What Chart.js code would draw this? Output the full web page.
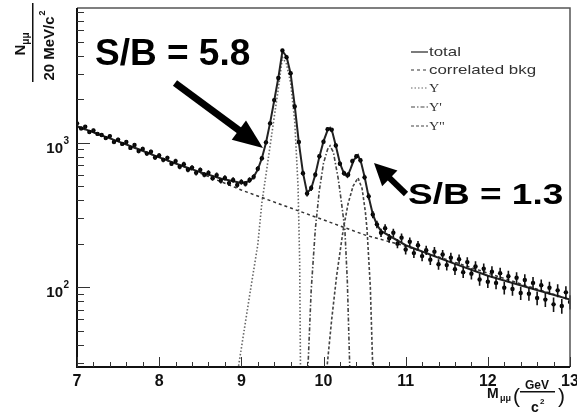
<!DOCTYPE html>
<html>
<head>
<meta charset="utf-8">
<script src="https://cdn.jsdelivr.net/npm/chart.js@4.4.0/dist/chart.umd.min.js"></script>
<style>
  html, body { margin: 0; padding: 0; background: #fff; }
  #wrap { width: 577px; height: 417px; }
</style>
</head>
<body>
<div id="wrap"><canvas id="chart" width="577" height="417"></canvas></div>
<script>
// ── data (dimuon mass spectrum, log y) ──
const dataMass = [
  7.00, 7.05, 7.10, 7.15, 7.20, 7.25, 7.30, 7.35, 7.40, 7.45, 7.50, 7.55, 7.60, 7.65, 7.70, 7.75, 7.80, 7.85, 7.90, 7.95,
  8.00, 8.05, 8.10, 8.15, 8.20, 8.25, 8.30, 8.35, 8.40, 8.45, 8.50, 8.55, 8.60, 8.65, 8.70, 8.75, 8.80, 8.85, 8.90, 8.95,
  9.00, 9.05, 9.10, 9.15, 9.20, 9.25, 9.30, 9.35, 9.40, 9.45, 9.50, 9.55, 9.60, 9.65, 9.70, 9.75, 9.80, 9.85, 9.90, 9.95,
  10.00, 10.05, 10.10, 10.15, 10.20, 10.25, 10.30, 10.35, 10.40, 10.45, 10.50, 10.55, 10.60, 10.65, 10.70, 10.75, 10.80, 10.85, 10.90, 10.95,
  11.00, 11.05, 11.10, 11.15, 11.20, 11.25, 11.30, 11.35, 11.40, 11.45, 11.50, 11.55, 11.60, 11.65, 11.70, 11.75, 11.80, 11.85, 11.90, 11.95,
  12.00, 12.05, 12.10, 12.15, 12.20, 12.25, 12.30, 12.35, 12.40, 12.45, 12.50, 12.55, 12.60, 12.65, 12.70, 12.75, 12.80, 12.85, 12.90, 12.95,
  13.00
];
const dataCounts = [
  1360, 1255, 1290, 1185, 1215, 1150, 1130, 1075, 1110, 1010, 1050, 980, 1010, 920, 965, 875, 905, 840, 865, 790,
  815, 760, 785, 715, 745, 680, 710, 650, 672, 618, 648, 600, 618, 568, 596, 545, 570, 525, 552, 510,
  535, 520, 552, 580, 660, 780, 1005, 1360, 1970, 2800, 4350, 3900, 3020, 1780, 1010, 615, 445, 485, 600, 805,
  1015, 1240, 1230, 955, 715, 615, 600, 745, 805, 755, 575, 425, 318, 272, 238, 256, 218, 238, 200, 220,
  182, 206, 172, 195, 164, 180, 155, 176, 144, 168, 142, 160, 133, 156, 127, 149, 124, 139, 113, 134,
  109, 128, 107, 125, 99, 119, 97, 116, 91, 112, 90, 107, 84, 103, 82, 99, 76, 95, 74, 92,
  79
];

// total fit
const totalMass = [7.0, 7.25, 7.5, 7.75, 8.0, 8.25, 8.5, 8.75, 9.0, 9.1, 9.15, 9.2, 9.25, 9.3, 9.35, 9.4, 9.45, 9.5,
  9.55, 9.6, 9.65, 9.7, 9.75, 9.8, 9.85, 9.9, 9.95, 10.0, 10.05, 10.08, 10.11, 10.15, 10.2, 10.25, 10.29, 10.33, 10.37, 10.42,
  10.46, 10.5, 10.55, 10.6, 10.65, 10.7, 11.0, 11.5, 12.0, 12.5, 13.0];
const totalCounts = [1300, 1150, 1020, 900, 790, 700, 625, 565, 525, 540, 580, 650, 780, 1000, 1370, 1950, 2800, 4300,
  3950, 3000, 1800, 1000, 620, 450, 480, 600, 800, 1020, 1220, 1265, 1170, 950, 720, 610, 580, 660, 760, 820,
  720, 580, 420, 320, 270, 245, 195, 152, 120, 99, 82];

// correlated background
const bkgMass   = [7.0, 7.5, 8.0, 8.5, 9.0, 9.5, 10.0, 10.5, 11.0, 11.5, 12.0, 12.5, 13.0];
const bkgCounts = [1290, 1020, 790, 615, 470, 370, 292, 230, 192, 155, 125, 101, 82];

// Upsilon states
const y1sMass   = [8.96, 9.1, 9.2, 9.25, 9.3, 9.35, 9.4, 9.45, 9.5, 9.55, 9.6, 9.65, 9.69, 9.71, 9.72];
const y1sCounts = [27, 87, 196, 383, 600, 950, 1500, 2350, 3900, 3500, 2600, 1400, 500, 150, 27];
const y2sMass   = [9.81, 9.85, 9.9, 9.95, 10.0, 10.05, 10.08, 10.12, 10.18, 10.22, 10.26, 10.29, 10.32];
const y2sCounts = [27, 95, 250, 470, 720, 900, 950, 860, 560, 380, 250, 110, 27];
const y3sMass   = [10.04, 10.1, 10.16, 10.24, 10.3, 10.36, 10.42, 10.47, 10.51, 10.53, 10.57, 10.6];
const y3sCounts = [27, 60, 120, 250, 380, 500, 570, 480, 330, 250, 100, 27];

const xTicks = [7, 8, 9, 10, 11, 12, 13];
const yDecades = [2, 3];

const zip = (xs, ys) => xs.map((x, i) => ({ x, y: ys[i] }));

const SANS = '"Liberation Sans", Arial, sans-serif';
const SERIF = '"Liberation Serif", "Times New Roman", serif';

function textAt(ctx, str, x, y, font, align, sx = 1, sy = 1) {
    ctx.save();
    ctx.translate(x, y);
    ctx.scale(sx, sy);
    ctx.font = font;
    ctx.textAlign = align;
    ctx.textBaseline = 'alphabetic';
    ctx.fillText(str, 0, 0);
    ctx.restore();
}

function arrow(ctx, x0, y0, x1, y1, shaft, headLen, headW) {
    const dx = x1 - x0, dy = y1 - y0, L = Math.hypot(dx, dy);
    const ux = dx / L, uy = dy / L;
    const bx = x1 - ux * headLen, by = y1 - uy * headLen;
    ctx.save();
    ctx.strokeStyle = '#000'; ctx.fillStyle = '#000';
    ctx.lineWidth = shaft; ctx.lineCap = 'butt';
    ctx.beginPath(); ctx.moveTo(x0, y0); ctx.lineTo(bx + ux * 2, by + uy * 2); ctx.stroke();
    ctx.beginPath();
    ctx.moveTo(x1, y1);
    ctx.lineTo(bx - uy * headW / 2, by + ux * headW / 2);
    ctx.lineTo(bx + uy * headW / 2, by - ux * headW / 2);
    ctx.closePath(); ctx.fill();
    ctx.restore();
}

/**
 * ROOT-style frame, ticks, labels, legend and annotations.
 */
const rootFrame = {
    id: 'rootFrame',
    beforeDraw(chart) {
        const ctx = chart.ctx;
        ctx.save(); ctx.fillStyle = '#fff'; ctx.fillRect(0, 0, chart.width, chart.height); ctx.restore();
    },
    afterDatasetsDraw(chart) {
        const { ctx, chartArea: a, scales: { x, y } } = chart;

        // statistical error bars on data
        ctx.save();
        ctx.strokeStyle = '#111'; ctx.lineWidth = 1.6;
        ctx.beginPath();
        dataMass.forEach((m, i) => {
            const n = dataCounts[i], e = Math.sqrt(n);
            const px = x.getPixelForValue(m);
            ctx.moveTo(px, y.getPixelForValue(n + e));
            ctx.lineTo(px, y.getPixelForValue(Math.max(n - e, 1)));
        });
        ctx.stroke();
        ctx.restore();

        // frame
        ctx.save();
        ctx.strokeStyle = '#555'; ctx.lineWidth = 1.5;
        ctx.beginPath();
        ctx.moveTo(a.left, a.top); ctx.lineTo(a.right, a.top); ctx.lineTo(a.right, a.bottom);
        ctx.stroke();
        ctx.strokeStyle = '#111'; ctx.lineWidth = 2;
        ctx.beginPath();
        ctx.moveTo(a.left, a.top); ctx.lineTo(a.left, a.bottom); ctx.lineTo(a.right, a.bottom);
        ctx.stroke();

        // x ticks (0.2 GeV minor, inward)
        ctx.strokeStyle = '#333'; ctx.lineWidth = 1;
        ctx.beginPath();
        for (let k = 0; k <= 30; k++) {
            const v = 7 + k * 0.2;
            const px = Math.round(x.getPixelForValue(v)) + 0.5;
            const len = k % 5 === 0 ? 10 : 5;
            ctx.moveTo(px, a.bottom); ctx.lineTo(px, a.bottom - len);
        }
        // y log ticks
        for (let d = 1; d <= 4; d++) {
            for (let k = 1; k <= 9; k++) {
                const v = k * Math.pow(10, d);
                if (v < y.min || v > y.max) continue;
                const py = Math.round(y.getPixelForValue(v)) + 0.5;
                const len = k === 1 ? 13 : 7;
                ctx.moveTo(a.left, py); ctx.lineTo(a.left + len, py);
            }
        }
        ctx.stroke();

        // tick labels
        ctx.fillStyle = '#111';
        xTicks.forEach(v => {
            textAt(ctx, String(v), x.getPixelForValue(v), 386, 'bold 16px ' + SANS, 'center');
        });
        yDecades.forEach(d => {
            const py = y.getPixelForValue(Math.pow(10, d));
            textAt(ctx, '10', 63, py + 10, 'bold 15px ' + SANS, 'right');
            textAt(ctx, String(d), 63.5, py + 1, 'bold 10px ' + SANS, 'left');
        });

        // y title: N_mumu / 20 MeV/c^2 (rotated)
        ctx.save();
        ctx.rotate(-Math.PI / 2);
        ctx.fillStyle = '#111';
        ctx.font = 'bold 15px ' + SANS;
        ctx.textAlign = 'left';
        const den = '20 MeV/c';
        const wDen = ctx.measureText(den).width;
        ctx.font = 'bold 9px ' + SANS;
        const wSup = ctx.measureText('2').width;
        const denStart = -46 - (wDen + wSup) / 2;
        ctx.font = 'bold 15px ' + SANS;
        ctx.fillText(den, denStart, 54);
        ctx.font = 'bold 9px ' + SANS;
        ctx.fillText('2', denStart + wDen + 1, 45);
        ctx.font = 'bold 15px ' + SANS;
        const wN = ctx.measureText('N').width;
        ctx.font = 'bold 10px ' + SANS;
        const wMu = ctx.measureText('\u03bc\u03bc').width;
        const numStart = -44 - (wN + wMu) / 2;
        ctx.font = 'bold 15px ' + SANS;
        ctx.fillText('N', numStart, 25);
        ctx.font = 'bold 10px ' + SANS;
        ctx.fillText('\u03bc\u03bc', numStart + wN, 29);
        ctx.fillRect(-82, 32, 79, 1.5);
        ctx.restore();

        // x title: M_mumu (GeV/c^2)
        textAt(ctx, 'M', 487, 398, 'bold 14px ' + SANS, 'left');
        textAt(ctx, '\u03bc\u03bc', 500, 401, 'bold 9px ' + SANS, 'left');
        textAt(ctx, '(', 513, 403, '21px ' + SANS, 'left');
        textAt(ctx, 'GeV', 537, 389, 'bold 12px ' + SANS, 'center');
        ctx.fillRect(520, 391, 35, 1.5);
        textAt(ctx, 'c', 535, 412, 'bold 14px ' + SANS, 'center');
        textAt(ctx, '2', 540, 404, 'bold 8px ' + SANS, 'left');
        textAt(ctx, ')', 558, 403, '21px ' + SANS, 'left');

        // legend
        const legend = chart.data.datasets.slice(1);
        const rows = [52, 70, 88, 107, 126];
        legend.forEach((ds, i) => {
            const ry = rows[i];
            ctx.save();
            ctx.strokeStyle = ds.borderColor; ctx.lineWidth = 1.2;
            ctx.setLineDash(ds.borderDash || []);
            ctx.beginPath(); ctx.moveTo(411, ry); ctx.lineTo(428, ry); ctx.stroke();
            ctx.restore();
            ctx.fillStyle = '#333';
            const greek = ds.label.startsWith('\u03a5');
            textAt(ctx, ds.label, 429, ry + 4, (greek ? '13px ' + SERIF : '13px ' + SANS), 'left', greek ? 1.1 : 1.3, 1);
        });

        // S/B annotations
        ctx.fillStyle = '#000';
        textAt(ctx, 'S/B = 5.8', 95, 65, 'bold 37px ' + SANS, 'left');
        textAt(ctx, 'S/B = 1.3', 408, 204, 'bold 37px ' + SANS, 'left', 1, 0.82);
        arrow(ctx, 175, 83, 263, 148, 7, 30, 24);
        arrow(ctx, 406, 194, 374, 163, 6, 22, 22);

        ctx.restore();
    }
};

new Chart(document.getElementById('chart'), {
    type: 'scatter',
    data: {
        datasets: [
            {
                label: 'data', data: zip(dataMass, dataCounts),
                pointRadius: 2.2, pointBackgroundColor: '#000', pointBorderWidth: 0, showLine: false
            },
            {
                label: 'total', data: zip(totalMass, totalCounts), showLine: true,
                borderColor: '#222', borderWidth: 2, pointRadius: 0
            },
            {
                label: 'correlated bkg', data: zip(bkgMass, bkgCounts), showLine: true,
                borderColor: '#333', borderWidth: 1.5, borderDash: [3, 3], pointRadius: 0
            },
            {
                label: '\u03a5', data: zip(y1sMass, y1sCounts), showLine: true,
                borderColor: '#666', borderWidth: 1.6, borderDash: [1.5, 2], pointRadius: 0
            },
            {
                label: '\u03a5\'', data: zip(y2sMass, y2sCounts), showLine: true,
                borderColor: '#444', borderWidth: 1.6, borderDash: [4, 2, 1.5, 2], pointRadius: 0
            },
            {
                label: '\u03a5\'\'', data: zip(y3sMass, y3sCounts), showLine: true,
                borderColor: '#444', borderWidth: 1.6, borderDash: [3, 2], pointRadius: 0
            }
        ]
    },
    options: {
        responsive: false, animation: false,
        layout: { padding: { left: 77, top: 8, right: 7, bottom: 50 } },
        plugins: { legend: { display: false }, tooltip: { enabled: false } },
        scales: {
            x: { type: 'linear', min: 7, max: 13, display: false },
            y: { type: 'logarithmic', min: 28, max: 8550, display: false }
        }
    },
    plugins: [rootFrame]
});
</script>
</body>
</html>
